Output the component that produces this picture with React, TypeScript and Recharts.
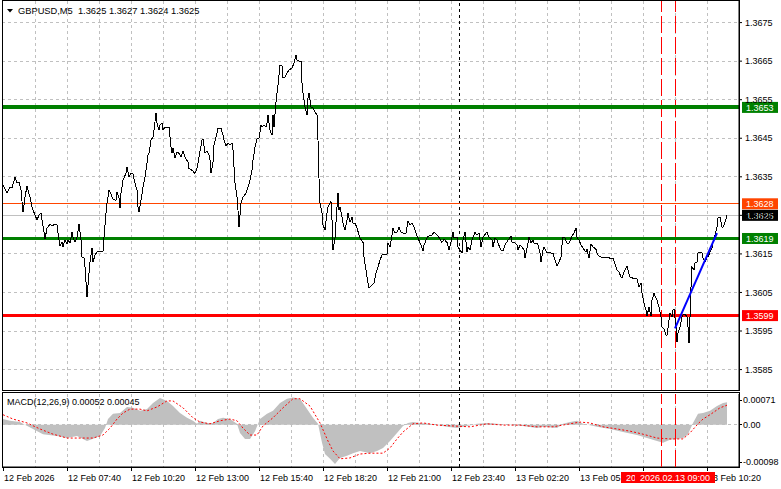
import React from 'react';
import { ComposedChart, Line, Area, XAxis, YAxis, CartesianGrid, ReferenceLine } from 'recharts';

const FONT = "'Liberation Sans', Arial, sans-serif";

const symbol = 'GBPUSD,M5';
const lastOhlc = [1.3625, 1.3627, 1.3624, 1.3625];
const macdReading = [0.00052, 0.00045];

// [bar, close] - one bar is 5 minutes, bar 0 = 12 Feb 05:00
const closes: [number, number][] = [
  [0, 1.36328], [2, 1.36308], [3.5, 1.36323], [4.5, 1.36321], [6, 1.36349], [7, 1.36334], [8, 1.36336], [9, 1.36315],
  [10, 1.36258], [11, 1.36297], [12, 1.36326], [13.5, 1.36297], [14.5, 1.36271], [16, 1.36251], [17, 1.36238], [18, 1.36251],
  [19, 1.36256], [19.5, 1.36238], [20.5, 1.36206], [21, 1.36188], [22, 1.36217], [23.5, 1.36227], [25, 1.36222], [25.5, 1.36227],
  [27, 1.36225], [28, 1.36186], [28.5, 1.3617], [29.5, 1.3618], [30, 1.36168], [31, 1.36186], [32, 1.36175], [32.5, 1.36186],
  [33.5, 1.36178], [34.5, 1.36206], [35, 1.36193], [36, 1.3618], [37, 1.36193], [38, 1.36227], [39, 1.36186], [39.5, 1.36142],
  [40.5, 1.36139], [41, 1.36116], [42, 1.36038], [43, 1.361], [43.5, 1.36129], [44.5, 1.36165], [45, 1.36129], [46, 1.36147],
  [47, 1.36155], [48.5, 1.36155], [50, 1.36157], [50.5, 1.36193], [51.5, 1.36256], [52, 1.36282], [53, 1.36315], [54, 1.36305],
  [55, 1.36292], [56.5, 1.36289], [57, 1.3631], [58, 1.36295], [58.5, 1.36269], [59, 1.36308], [60, 1.36341], [61.5, 1.36359],
  [62, 1.36375], [63, 1.36349], [64, 1.36359], [65, 1.36357], [66, 1.36334], [67, 1.36315], [67.5, 1.36271], [68, 1.36258],
  [69, 1.36289], [70, 1.36323], [71, 1.36349], [72, 1.36385], [72.5, 1.36406], [73, 1.36411], [74, 1.36445], [75, 1.36453],
  [75.5, 1.36471], [76.5, 1.36515], [77, 1.36489], [78, 1.36471], [78.5, 1.36484], [79.5, 1.36489], [80, 1.36471], [81, 1.36479],
  [83, 1.36479], [84, 1.36427], [84.5, 1.36411], [85, 1.36424], [86, 1.36398], [87, 1.36414], [88, 1.36411], [89, 1.36401],
  [90, 1.36417], [91, 1.36401], [92.5, 1.36388], [93, 1.36372], [94.5, 1.36367], [96, 1.36359], [97, 1.36372], [98, 1.36401],
  [99.5, 1.36445], [100, 1.36448], [101, 1.36411], [102, 1.36417], [103, 1.36406], [103.5, 1.36393], [104, 1.36359], [105, 1.36388],
  [105.5, 1.36432], [106.5, 1.36453], [107.5, 1.36476], [109, 1.36476], [110, 1.36458], [110.5, 1.36445], [111.5, 1.3643], [112.5, 1.36437],
  [113.5, 1.36432], [114.5, 1.36437], [115, 1.36419], [116, 1.36334], [117, 1.36297], [117.5, 1.36263], [118, 1.36219], [119, 1.36282],
  [120, 1.36297], [121.5, 1.36308], [122.5, 1.36323], [123.5, 1.36341], [124.5, 1.36367], [125, 1.36393], [126, 1.36427], [127, 1.36448],
  [128, 1.3645], [129, 1.36484], [129.5, 1.36479], [130.5, 1.36484], [131.5, 1.36479], [132, 1.36489], [132.5, 1.3651], [133.5, 1.36471],
  [134.5, 1.36458], [135, 1.3651], [135.5, 1.36479], [136.5, 1.36544], [137.5, 1.36588], [138.5, 1.3664], [139.5, 1.36637], [140, 1.36608],
  [141, 1.36608], [142, 1.36619], [143, 1.36627], [144.5, 1.36632], [145.5, 1.36645], [146.5, 1.36666], [147, 1.36653], [148, 1.3665],
  [149, 1.3665], [149.5, 1.36593], [150, 1.36567], [151, 1.36531], [152, 1.3651], [152.5, 1.36554], [153, 1.36567], [154, 1.36531],
  [155, 1.36528], [156, 1.36518], [157, 1.3651], [157.5, 1.36445], [158, 1.36346], [158.5, 1.36282], [159.5, 1.36256], [160, 1.36225],
  [161, 1.36212], [162, 1.36256], [162.5, 1.36271], [163.5, 1.36282], [164, 1.36287], [164.5, 1.36238], [165, 1.3616], [166, 1.36191],
  [167, 1.36271], [167.5, 1.36308], [168, 1.36263], [168.5, 1.36271], [169.5, 1.36245], [170, 1.3623], [171, 1.36212], [172, 1.36238],
  [172.5, 1.36256], [173.5, 1.36232], [174.5, 1.36245], [175, 1.3623], [176, 1.3623], [177, 1.36217], [178.5, 1.36191], [180, 1.3618],
  [180.5, 1.36142], [181.5, 1.36108], [182.5, 1.36074], [183, 1.36061], [184.5, 1.36069], [185.5, 1.36074], [186.5, 1.361], [187.5, 1.36116],
  [188.5, 1.36134], [189.5, 1.36147], [192, 1.36149], [192.5, 1.36178], [193.5, 1.36168], [194.5, 1.36199], [195, 1.36217], [196, 1.36204],
  [197, 1.36206], [198, 1.36219], [199, 1.36206], [200, 1.36204], [201.5, 1.36204], [202.5, 1.36235], [203.5, 1.36225], [204.5, 1.3623],
  [205.5, 1.36219], [206.5, 1.36204], [207.5, 1.36191], [209, 1.36173], [210, 1.36157], [210.5, 1.36173], [212, 1.36191], [212.5, 1.36196],
  [214.5, 1.36199], [215.5, 1.36206], [217, 1.36199], [218, 1.36193], [219.5, 1.3618], [220.5, 1.36188], [222, 1.3618], [223, 1.3616],
  [224, 1.3618], [225, 1.36206], [225.5, 1.36191], [227, 1.36193], [227.5, 1.36168], [228.5, 1.3616], [229.5, 1.36152], [230, 1.36186],
  [231, 1.36206], [232, 1.36155], [232.5, 1.36168], [233.5, 1.3616], [234.5, 1.36186], [236, 1.36206], [237, 1.36199], [238, 1.36204],
  [239, 1.36168], [240, 1.36193], [241.5, 1.36204], [242, 1.36206], [243, 1.36193], [244.5, 1.36186], [245, 1.36168], [246, 1.36191],
  [247, 1.36186], [247.5, 1.36178], [249, 1.3616], [250, 1.36157], [251, 1.36173], [252.5, 1.36186], [254, 1.36196], [254.5, 1.3618],
  [255.5, 1.3618], [257, 1.36173], [257.5, 1.3616], [258.5, 1.36173], [259.5, 1.36168], [260.5, 1.3616], [261, 1.36139], [262, 1.36165],
  [263, 1.36193], [264, 1.36178], [265, 1.36186], [265.5, 1.36178], [267, 1.36178], [267.5, 1.36173], [268.5, 1.36152], [269, 1.36129],
  [270, 1.3616], [270.5, 1.36168], [272, 1.36152], [272.5, 1.36155], [274, 1.36152], [275, 1.36152], [276, 1.36134], [277, 1.36118],
  [278, 1.36129], [279, 1.36142], [279.5, 1.36173], [280, 1.36193], [281, 1.36191], [282, 1.36178], [283, 1.36178], [284.5, 1.36196],
  [285.5, 1.36204], [286.5, 1.36217], [287, 1.36193], [288, 1.36186], [289, 1.36173], [290, 1.36165], [291.5, 1.36155], [292, 1.36162],
  [293, 1.36139], [294, 1.36175], [295, 1.36168], [296.5, 1.36162], [297, 1.36152], [298, 1.36144], [299, 1.36142], [300, 1.36139],
  [301.5, 1.36142], [303.5, 1.36139], [305, 1.36139], [306, 1.36124], [307, 1.36108], [308, 1.36103], [309, 1.3609], [309.5, 1.36087],
  [310.5, 1.36103], [312, 1.36118], [312.5, 1.36108], [313.5, 1.3609], [315, 1.36087], [316, 1.36087], [317, 1.36085], [318, 1.36064],
  [319, 1.36074], [319.5, 1.36048], [320.5, 1.36022], [321.5, 1.36004], [322, 1.35989], [323, 1.36012], [324, 1.35989], [324.5, 1.3603],
  [325.5, 1.36048], [326.5, 1.36035], [327, 1.3603], [328, 1.36012], [329, 1.35986], [329.5, 1.3596], [330.5, 1.35955], [331.5, 1.35939],
  [332, 1.35939], [333, 1.35978], [333.5, 1.35996], [334.5, 1.35986], [335, 1.36004], [335.5, 1.36007], [336.5, 1.3596], [337, 1.35921],
  [337.5, 1.35944], [338.5, 1.3596], [339.5, 1.35986], [340, 1.35991], [341, 1.35994], [342, 1.35986], [342.5, 1.3596], [343, 1.35918],
  [343.5, 1.35986], [344, 1.36064], [344.5, 1.36116], [345.5, 1.36108], [346, 1.36126], [347, 1.36129], [347.5, 1.36152], [348.5, 1.36155],
  [349.5, 1.36152], [350, 1.36139], [351, 1.36129], [352, 1.36142], [352.5, 1.36142], [353.5, 1.36155], [354.5, 1.36165], [355, 1.3618],
  [356, 1.36199], [357, 1.36219], [357.5, 1.36243], [358.5, 1.36245], [359.5, 1.36219], [360, 1.36219], [361, 1.36232], [362, 1.3625],
];

// [bar, value] MACD(12,26,9) main (histogram) and signal
const macdHist: [number, number][] = [
  [0, 0.00013], [3.5, 0.00009], [8.5, 0.00006], [10, 0.00002], [15, -0.0001], [20, -0.00022], [27, -0.00026], [32, -0.00031],
  [37, -0.00026], [42, -0.00038], [46, -0.00031], [48.5, -0.00026], [51, -0.00008], [52.5, 0.00013], [55, 0.00025], [58.5, 0.00027],
  [62, 0.00041], [65, 0.00039], [68.5, 0.00032], [72, 0.00036], [75, 0.0005], [78.5, 0.00062], [82, 0.00055], [85, 0.00043],
  [88.5, 0.00027], [92, 0.00016], [95, 0.00009], [97, 0.00002], [98.5, 0.00009], [102, 0.00004], [105, 0.00004], [107.5, 0.00013],
  [110, 0.00016], [113.5, 0.00013], [117, 0.00002], [118.5, -0.00019], [121, -0.00033], [123.5, -0.00033], [126, -0.00015], [128.5, 0.00013],
  [132, 0.00025], [135, 0.00032], [138.5, 0.0005], [142, 0.0006], [145, 0.00063], [148.5, 0.0006], [152, 0.00036], [155, 0.00016],
  [157.5, 0.00002], [159.5, -0.00042], [161, -0.00068], [163.5, -0.00079], [166, -0.00091], [168.5, -0.00077], [172, -0.00072], [175, -0.00066],
  [178.5, -0.00061], [183.5, -0.00066], [187, -0.00061], [190, -0.00054], [193.5, -0.00038], [197, -0.00019], [200, -0.00003],
  [202.5, 0.00004], [205, 0.00006], [208.5, 0.00004], [213.5, 0.00002], [217, -0.00001], [222, -0.00005], [227, -0.00008], [232, -0.00003],
  [237, 0.00002], [242, 0.00004], [247, 0.00002], [253.5, -0.00001], [260, -0.00003], [267, -0.00008], [270, -0.00005], [277, -0.00008],
  [280, 0.00002], [283.5, 0.00006], [287, 0.00009], [290, 0.00002], [297, -0.00005], [303.5, -0.0001], [310, -0.00017], [317, -0.00024],
  [322, -0.00031], [327, -0.00038], [330, -0.00042], [333.5, -0.00035], [337, -0.00033], [340, -0.00031], [342.5, -0.00022], [345, 0.00004],
  [347.5, 0.00025], [350, 0.00027], [353.5, 0.00032], [357, 0.00043], [360, 0.0005], [362, 0.00052],
];

const macdSignal: [number, number][] = [
  [0, 0.00023], [5, 0.00013], [12, 0.00004], [18.5, -0.0001], [25, -0.00022], [32, -0.00031], [38.5, -0.00031], [45, -0.00031],
  [50, -0.00024], [53.5, -0.00008], [57, 0.00013], [60, 0.00027], [63.5, 0.00036], [68.5, 0.00036], [72, 0.00032], [77, 0.00041],
  [82, 0.00055], [85, 0.00055], [90, 0.00039], [95, 0.00016], [98.5, 0.00006], [103.5, 0.00002], [108.5, 0.00009], [113.5, 0.00013],
  [117, 0.00009], [120, -0.00008], [123.5, -0.00024], [127, -0.00024], [130, -0.00003], [135, 0.00016], [140, 0.00039], [145, 0.0006],
  [148.5, 0.0006], [153.5, 0.00043], [158.5, 0.00004], [162.5, -0.00038], [165, -0.00061], [168.5, -0.00079], [173.5, -0.00077], [178.5, -0.00068],
  [183.5, -0.00066], [190, -0.00066], [193.5, -0.00054], [197, -0.00033], [200, -0.00017], [205, 0.00002], [210, 0.00004],
  [217, -0.00001], [225, -0.00003], [233.5, -0.00005], [242, 0.00002], [250, -0.00001], [258.5, -0.00001], [267, -0.00005], [275, -0.00005],
  [283.5, 0.00002], [288.5, 0.00006], [293.5, 0.00004], [300, -0.00005], [307, -0.0001], [313.5, -0.00015], [320, -0.00022], [327, -0.00031],
  [333.5, -0.00033], [340, -0.00033], [343.5, -0.00019], [347.5, 0.00002], [350, 0.00013], [353.5, 0.00023], [358.5, 0.00039], [362, 0.00045],
];

const priceTicks = [1.3585, 1.3595, 1.3605, 1.3615, 1.3625, 1.3635, 1.3645, 1.3655, 1.3665, 1.3675];
const macdTicks = [-0.00098, 0, 0.00071];
const gridBars = [16, 32, 48, 64, 80, 96, 112, 128, 144, 160, 176, 192, 208, 224, 240, 256, 272, 288, 304, 320, 336, 352];
const timeBars = [0, 32, 64, 96, 128, 160, 192, 224, 256, 288, 320, 352];
const timeLabels = [
  '12 Feb 2026', '12 Feb 07:40', '12 Feb 10:20', '12 Feb 13:00', '12 Feb 15:40', '12 Feb 18:20',
  '12 Feb 21:00', '12 Feb 23:40', '13 Feb 02:20', '13 Feb 05:00', '13 Feb 07:40', '13 Feb 10:20',
];

// horizontal levels: resistance, orange, bid, support, red
const levelPrices = [1.3653, 1.3628, 1.3625, 1.3619, 1.3599];
const levelStyles = [
  { stroke: '#008000', width: 4, box: '#008000' },
  { stroke: '#ff4500', width: 1, box: '#ff4500' },
  { stroke: '#c0c0c0', width: 1, box: '#000000' },
  { stroke: '#008000', width: 3, box: '#008000' },
  { stroke: '#ff0000', width: 3, box: '#ff0000' },
];

const daySeparatorBar = 228; // 13 Feb 00:00
const markerBars = [329, 336];
const markerLabels = ['2026.02.13 08:25', '2026.02.13 09:00'];
const trendBars = [336, 357];
const trendPrices = [1.35957, 1.36204];

const X_DOMAIN: [number, number] = [-0.5, 368];
const MACD_DOMAIN: [number, number] = [-0.00098, 0.00071];

const priceData = closes.map(([bar, close]) => ({ bar, close }));
const histData = macdHist.map(([bar, hist]) => ({ bar, hist }));
const signalData = macdSignal.map(([bar, signal]) => ({ bar, signal }));

const PriceBox = ({ viewBox, text, fill }: any) => {
  if (!viewBox) return null;
  const left = viewBox.x + viewBox.width + 3;
  return (
    <g>
      <rect x={left} y={viewBox.y - 5.5} width={36} height={11} fill={fill} />
      <text x={left + 4} y={viewBox.y + 3.3} fill="#fff" fontSize={9} fontFamily={FONT}>
        {text}
      </text>
    </g>
  );
};

const MarkerBox = ({ viewBox, text }: any) => {
  if (!viewBox) return null;
  const top = viewBox.y + viewBox.height + 5;
  return (
    <g>
      <rect x={viewBox.x - 40} y={top} width={80} height={11} fill="#ff0000" />
      <text x={viewBox.x} y={top + 8.7} fill="#fff" fontSize={9} fontFamily={FONT} textAnchor="middle">
        {text}
      </text>
    </g>
  );
};

const TimeTick = ({ x, y, payload }: any) => {
  const label = timeLabels[timeBars.indexOf(payload.value)];
  return (
    <g>
      <line x1={x} x2={x} y1={y} y2={y + 4} stroke="#000" shapeRendering="crispEdges" />
      <text x={x + 1} y={y + 14} fill="#000" fontSize={9} fontFamily={FONT}>
        {label}
      </text>
    </g>
  );
};

// MT4 keeps the min/max captions inside the indicator window
const MacdTick = ({ x, y, payload }: any) => {
  const cy = Math.min(Math.max(y, 8), 70);
  const v = payload.value;
  return (
    <g>
      <line x1={x} x2={x + 3} y1={cy} y2={cy} stroke="#000" shapeRendering="crispEdges" />
      <text x={x + 4} y={cy + 3.2} fill="#000" fontSize={9} fontFamily={FONT}>
        {v === 0 ? '0.00' : v.toFixed(5)}
      </text>
    </g>
  );
};

export default function App() {
  const title = `${symbol}  ${lastOhlc.map((v) => v.toFixed(4)).join(' ')}`;
  const macdTitle = `MACD(12,26,9) ${macdReading[0].toFixed(5)} ${macdReading[1].toFixed(5)}`;

  return (
    <div style={{ position: 'absolute', left: 0, top: 0, width: 781, height: 489, background: '#fff', overflow: 'hidden' }}>
      {/* Price panel */}
      <div style={{ position: 'absolute', left: 0, top: 0 }}>
        <ComposedChart width={781} height={391} data={priceData} margin={{ top: 1, right: 0, bottom: 1, left: 2 }}>
          <CartesianGrid
            stroke="#c0c0c0"
            strokeDasharray="3 3"
            verticalValues={gridBars}
            horizontalValues={priceTicks}
            shapeRendering="crispEdges"
          />
          <XAxis dataKey="bar" type="number" domain={X_DOMAIN} ticks={gridBars} hide allowDataOverflow />
          <YAxis
            orientation="right"
            width={42}
            type="number"
            domain={[1.35797, 1.36806]}
            ticks={priceTicks}
            interval={0}
            allowDataOverflow
            tickFormatter={(v) => v.toFixed(4)}
            tick={{ fontSize: 9, fill: '#000', fontFamily: FONT }}
            tickSize={3}
            tickMargin={3}
            tickLine={{ stroke: '#000' }}
            axisLine={{ stroke: '#000' }}
          />
          <ReferenceLine x={daySeparatorBar} stroke="#000" strokeDasharray="3 3" shapeRendering="crispEdges" />
          {markerBars.map((b) => (
            <ReferenceLine key={b} x={b} stroke="#ff0000" strokeDasharray="17 4" shapeRendering="crispEdges" />
          ))}
          {levelPrices.map((p, i) => (
            <ReferenceLine
              key={p}
              y={p}
              stroke={levelStyles[i].stroke}
              strokeWidth={levelStyles[i].width}
              shapeRendering="crispEdges"
              label={<PriceBox text={p.toFixed(4)} fill={levelStyles[i].box} />}
            />
          ))}
          <Line
            dataKey="close"
            type="linear"
            stroke="#000"
            strokeWidth={1}
            dot={false}
            isAnimationActive={false}
            shapeRendering="crispEdges"
          />
          <ReferenceLine
            segment={[
              { x: trendBars[0], y: trendPrices[0] },
              { x: trendBars[1], y: trendPrices[1] },
            ]}
            stroke="#0000ff"
            strokeWidth={2}
          />
        </ComposedChart>
      </div>

      {/* MACD panel */}
      <div style={{ position: 'absolute', left: 0, top: 392 }}>
        <ComposedChart width={781} height={97} margin={{ top: 2, right: 0, bottom: 0, left: 2 }}>
          <CartesianGrid
            stroke="#c0c0c0"
            strokeDasharray="3 3"
            verticalValues={gridBars}
            horizontalValues={[0]}
            shapeRendering="crispEdges"
          />
          <XAxis
            dataKey="bar"
            type="number"
            domain={X_DOMAIN}
            ticks={timeBars}
            interval={0}
            height={22}
            tickSize={0}
            tickMargin={0}
            tickLine={false}
            axisLine={{ stroke: '#000' }}
            tick={<TimeTick />}
            allowDataOverflow
          />
          <YAxis
            orientation="right"
            width={42}
            type="number"
            domain={MACD_DOMAIN}
            ticks={macdTicks}
            interval={0}
            tickSize={0}
            tickMargin={0}
            tickLine={false}
            axisLine={{ stroke: '#000' }}
            tick={<MacdTick />}
            allowDataOverflow
          />
          <Area
            data={histData}
            dataKey="hist"
            type="linear"
            stroke="none"
            fill="#c0c0c0"
            fillOpacity={1}
            baseValue={0}
            isAnimationActive={false}
          />
          <Line
            data={signalData}
            dataKey="signal"
            type="linear"
            stroke="#ff0000"
            strokeDasharray="2 2"
            dot={false}
            isAnimationActive={false}
          />
          <ReferenceLine x={daySeparatorBar} stroke="#000" strokeDasharray="3 3" shapeRendering="crispEdges" />
        </ComposedChart>
      </div>

      {/* vertical markers of the MACD window, drawn above its time axis */}
      <div style={{ position: 'absolute', left: 0, top: 392 }}>
        <ComposedChart width={781} height={97} data={histData} margin={{ top: 2, right: 42, bottom: 22, left: 2 }}>
          <XAxis dataKey="bar" type="number" domain={X_DOMAIN} hide allowDataOverflow />
          <YAxis type="number" domain={MACD_DOMAIN} hide allowDataOverflow />
          {markerBars.map((b, i) => (
            <ReferenceLine
              key={b}
              x={b}
              stroke="#ff0000"
              strokeDasharray="17 4"
              shapeRendering="crispEdges"
              label={<MarkerBox text={markerLabels[i]} />}
            />
          ))}
        </ComposedChart>
      </div>

      {/* panel frames and captions */}
      <div style={{ position: 'absolute', left: 2, top: 0, width: 738, height: 391, border: '1px solid #000', boxSizing: 'border-box' }} />
      <div style={{ position: 'absolute', left: 2, top: 392, width: 738, height: 76, border: '1px solid #000', boxSizing: 'border-box' }} />
      <svg width={781} height={489} style={{ position: 'absolute', left: 0, top: 0 }}>
        <polygon points="7,9 13,9 10,12.5" fill="#000" />
        <text x={18} y={14} fontSize={9.3} fontFamily={FONT} fill="#000" style={{ whiteSpace: 'pre' }}>
          {title}
        </text>
        <text x={7} y={405} fontSize={9} fontFamily={FONT} fill="#000">
          {macdTitle}
        </text>
      </svg>
    </div>
  );
}
